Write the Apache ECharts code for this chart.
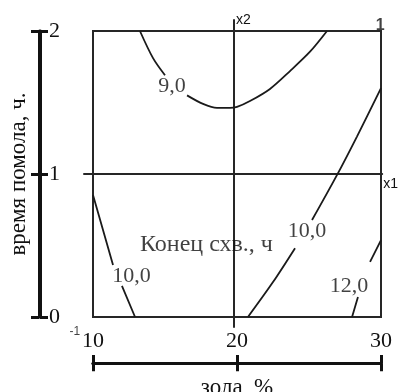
<!DOCTYPE html>
<html>
<head>
<meta charset="utf-8">
<script src="https://cdn.jsdelivr.net/npm/echarts@6/dist/echarts.min.js"></script>
<style>
  html, body { margin: 0; padding: 0; background: #fff; }
  #chart { width: 401px; height: 392px; }
</style>
</head>
<body>
<div id="chart"></div>
<script>
// Natural factor ranges: ash content (%) and grinding time (h)
const ashTicks = [10, 20, 30];
const timeTicks = [0, 1, 2];

// Isolines of setting end time, [ash %, grinding time h]; '-' breaks a line under its label
const level9 = [[13.26, 2.0], [14.17, 1.81], [15.0, 1.69], '-', [16.53, 1.55], [17.64, 1.49],
  [18.61, 1.462], [19.51, 1.462], [20.0, 1.469], [20.9, 1.51], [22.29, 1.595], [23.68, 1.72],
  [25.07, 1.855], [26.25, 2.0]];
const level10Left = [[10.0, 0.853], [11.39, 0.364], '-', [12.01, 0.217], [12.92, 0.0]];
const level10Right = [[20.76, 0.0], [22.5, 0.244], [24.03, 0.481], '-', [25.21, 0.678],
  [26.94, 0.992], [28.33, 1.262], [30.0, 1.60]];
const level12 = [[27.99, 0.0], [28.4, 0.14], '-', [29.24, 0.385], [30.0, 0.538]];

// Isoline values and where their captions sit
const levelValues = [9.0, 10.0, 10.0, 12.0];
const levelAnchors = [[15.49, 1.615], [12.67, 0.283], [24.86, 0.598], [27.78, 0.217]];
const responseName = 'Конец схв., ч';
const responseAnchor = [17.88, 0.507];

// Coded factor axes (x1, x2) and their corner values
const codedCorners = [[-1, -1], [1, 1]];

const serif = 'Liberation Serif';
const sans = 'Liberation Sans';
const ink = '#111';
const frame = '#262626';

const fmtLevel = v => v.toFixed(1).replace('.', ',');

const contourLine = data => ({
  type: 'line', xAxisIndex: 0, yAxisIndex: 0, data: data,
  showSymbol: false, smooth: 0.3, connectNulls: false, silent: true,
  lineStyle: { color: '#1a1a1a', width: 1.8 }
});

const hidden = { show: false };
const blankAxis = extra => Object.assign({
  type: 'value', axisLine: { show: false }, axisTick: hidden, axisLabel: hidden, splitLine: hidden
}, extra);

const chart = echarts.init(document.getElementById('chart'), null, { renderer: 'canvas' });

chart.setOption({
  animation: false,
  backgroundColor: '#fff',
  grid: [
    // main plotting field
    { left: 93, top: 31, width: 288, height: 286, show: true, borderColor: frame, borderWidth: 2, backgroundColor: 'transparent' },
    // coded factor space, crossing at the centre
    { left: 84, top: 20, width: 304, height: 307 },
    // natural scale: grinding time
    { left: 39, top: 31, width: 1, height: 286 },
    // natural scale: ash content
    { left: 93, top: 363, width: 288, height: 1 }
  ],
  xAxis: [
    blankAxis({ gridIndex: 0, min: 10, max: 30 }),
    blankAxis({
      gridIndex: 1, min: -1.0625, max: 1.049,
      axisLine: { show: true, onZero: true, lineStyle: { color: frame, width: 2 } },
      name: 'x1', nameLocation: 'end', nameGap: 1,
      nameTextStyle: { fontFamily: sans, fontSize: 14, color: ink, align: 'left', verticalAlign: 'top', padding: [3, 0, 0, 0] }
    }),
    {
      type: 'value', gridIndex: 3, position: 'top', min: ashTicks[0], max: ashTicks[2], interval: 10,
      axisLine: { show: true, onZero: false, lineStyle: { color: ink, width: 3 } },
      axisTick: { show: true, inside: false, length: 8, lineStyle: { color: ink, width: 3 } },
      axisLabel: { show: true, margin: 11, fontFamily: serif, fontSize: 22, color: ink, showMinLabel: true, showMaxLabel: true },
      splitLine: hidden
    },
    {
      type: 'value', gridIndex: 3, position: 'bottom', min: ashTicks[0], max: ashTicks[2], interval: 10,
      axisLine: { show: true, onZero: false, lineStyle: { color: ink, width: 3 } },
      axisTick: { show: true, inside: false, length: 8, lineStyle: { color: ink, width: 3 } },
      axisLabel: hidden, splitLine: hidden,
      name: 'зола, %', nameLocation: 'middle', nameGap: 13,
      nameTextStyle: { fontFamily: serif, fontSize: 23, color: ink, verticalAlign: 'top' }
    },
    blankAxis({ gridIndex: 2, min: 0, max: 1 })
  ],
  yAxis: [
    blankAxis({ gridIndex: 0, min: 0, max: 2 }),
    blankAxis({
      gridIndex: 1, min: -1.0699, max: 1.0769,
      axisLine: { show: true, onZero: true, lineStyle: { color: frame, width: 2 } },
      name: 'x2', nameLocation: 'end', nameGap: 0,
      nameTextStyle: { fontFamily: sans, fontSize: 14, color: ink, align: 'left', verticalAlign: 'middle', padding: [0, 0, 0, 2] }
    }),
    {
      type: 'value', gridIndex: 2, position: 'left', min: timeTicks[0], max: timeTicks[2], interval: 1,
      axisLine: { show: true, onZero: false, lineStyle: { color: ink, width: 3 } },
      axisTick: { show: true, inside: false, length: 8, lineStyle: { color: ink, width: 3 } },
      axisLabel: { show: true, inside: true, margin: 10, fontFamily: serif, fontSize: 22, color: ink, showMinLabel: true, showMaxLabel: true },
      splitLine: hidden,
      name: 'время помола, ч.', nameLocation: 'middle', nameGap: 9, nameRotate: 90,
      nameTextStyle: { fontFamily: serif, fontSize: 23, color: ink }
    },
    {
      type: 'value', gridIndex: 2, position: 'right', min: timeTicks[0], max: timeTicks[2], interval: 1,
      axisLine: { show: true, onZero: false, lineStyle: { color: ink, width: 3 } },
      axisTick: { show: true, inside: false, length: 8, lineStyle: { color: ink, width: 3 } },
      axisLabel: hidden, splitLine: hidden
    },
    blankAxis({ gridIndex: 3, min: 0, max: 1 })
  ],
  series: [
    contourLine(level9),
    contourLine(level10Left),
    contourLine(level10Right),
    contourLine(level12),
    {
      // isoline captions and the response name
      type: 'scatter', xAxisIndex: 0, yAxisIndex: 0, symbolSize: 0, silent: true,
      data: levelAnchors.map((p, i) => ({ value: p, name: fmtLevel(levelValues[i]) }))
        .concat([{ value: responseAnchor, name: responseName, label: { fontSize: 24 } }]),
      label: {
        show: true, position: 'inside', formatter: p => p.name,
        fontFamily: serif, fontSize: 22, color: ink
      }
    },
    {
      // coded corner values of the factor space
      type: 'scatter', xAxisIndex: 1, yAxisIndex: 1, symbolSize: 0, silent: true,
      data: [
        { value: codedCorners[0], name: String(codedCorners[0][0]), label: { fontSize: 12, offset: [-18, 15] } },
        { value: codedCorners[1], name: String(codedCorners[1][0]), label: { fontSize: 16, fontWeight: 'bold', offset: [5, -5] } }
      ],
      label: {
        show: true, position: 'inside', fontFamily: sans, color: ink,
        formatter: p => p.name
      }
    }
  ]
});
</script>
</body>
</html>
